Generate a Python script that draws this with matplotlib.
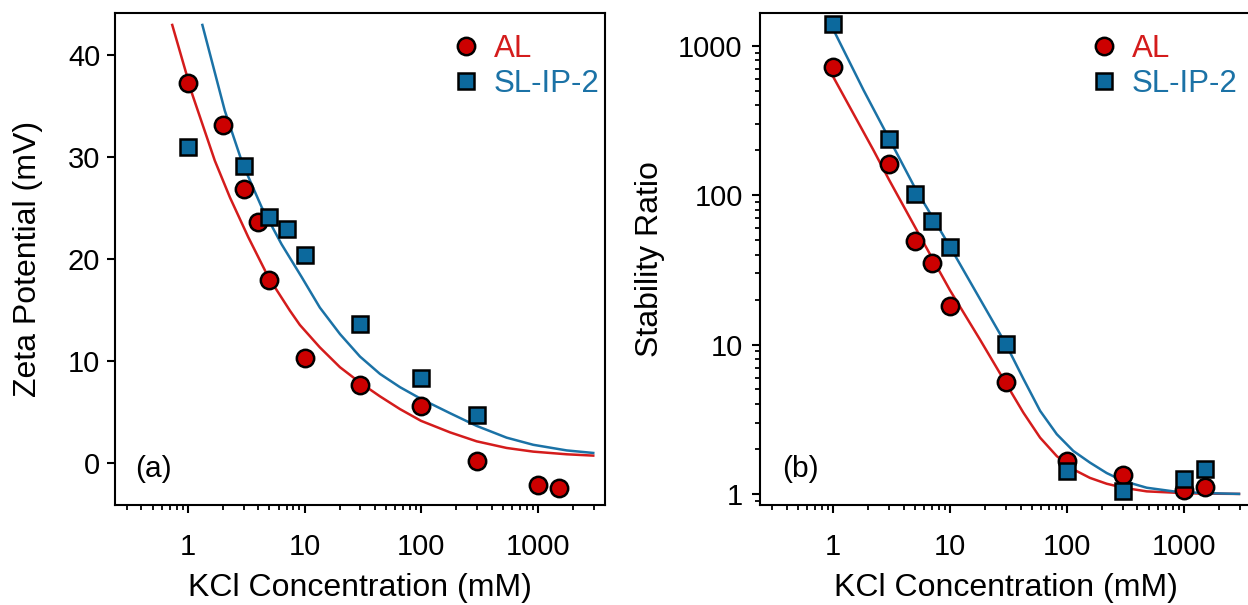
import numpy as np
import matplotlib
matplotlib.use('Agg')
import matplotlib.pyplot as plt
from matplotlib.ticker import FixedLocator, FixedFormatter, LogLocator, NullFormatter

plt.rcParams['font.family'] = ['Liberation Sans', 'DejaVu Sans']

# KCl concentrations (mM)
kcl_al = [1, 2, 3, 4, 5, 10, 30, 100, 300, 1000, 1500]
kcl_sl = [1, 3, 5, 7, 10, 30, 100, 300]
kcl_w = [1, 3, 5, 7, 10, 30, 100, 300, 1000, 1500]

# zeta potential (mV)
zeta_al = [37.2, 33.1, 26.8, 23.6, 17.9, 10.25, 7.6, 5.6, 0.15, -2.2, -2.45]
zeta_sl = [30.9, 29.1, 24.1, 22.9, 20.4, 13.6, 8.3, 4.7]

# stability ratio W
w_al = [721, 162, 49.3, 35.3, 18.1, 5.58, 1.65, 1.33, 1.07, 1.11]
w_sl = [1395, 236, 101, 67, 44.6, 10.1, 1.43, 1.04, 1.25, 1.47]

# model curves
zfit_al_x = [0.734, 1.09, 1.70, 2.29, 3.29, 4.88, 7.48, 9.1, 13.5, 20.1, 29.8, 44.2,
             65.6, 99.3, 176, 298, 538, 910, 1758, 2972]
zfit_al_y = [42.9, 36.1, 29.6, 26.0, 22.1, 18.2, 14.9, 13.5, 11.3, 9.35, 7.85, 6.5,
             5.25, 4.1, 2.97, 2.09, 1.44, 1.08, 0.82, 0.69]
zfit_sl_x = [1.33, 2.07, 2.94, 4.28, 6.35, 9.42, 13.5, 20.1, 29.8, 44.2, 65.6, 99.3,
             176, 298, 538, 910, 1758, 2972]
zfit_sl_y = [42.9, 34.5, 29.3, 25.05, 21.4, 18.2, 15.2, 12.6, 10.4, 8.7, 7.4, 6.25,
             4.85, 3.6, 2.45, 1.75, 1.2, 0.95]

wfit_al_x = [1, 2.21, 3, 7, 10, 18, 30, 42.3, 58.8, 81.7, 113, 157, 218, 303, 480,
             811, 1372, 2953]
wfit_al_y = [620, 200, 127, 38, 23, 10.8, 5.5, 3.5, 2.38, 1.79, 1.46, 1.28, 1.17, 1.10,
             1.04, 1.02, 1.005, 1.0]
wfit_sl_x = [1, 1.82, 3, 5, 7, 10, 15.8, 29.9, 42.3, 58.8, 81.7, 113, 157, 218, 303,
             480, 811, 1372, 2953]
wfit_sl_y = [1290, 504, 240, 112, 72, 45, 24.1, 10.1, 5.9, 3.6, 2.51, 1.94, 1.62, 1.38,
             1.22, 1.10, 1.04, 1.015, 1.0]

series = ['AL', 'SL-IP-2']
red_fill, blue_fill = '#cc0000', '#0c699d'
red_line, blue_line = '#d41c1c', '#1b72a6'

x_ticks = [1, 10, 100, 1000]
x_labels = ['1', '10', '100', '1000']


def style_axes(ax, ypad):
    ax.set_xscale('log')
    ax.set_xlim(0.237, 3740)
    ax.xaxis.set_major_locator(FixedLocator(x_ticks))
    ax.xaxis.set_major_formatter(FixedFormatter(x_labels))
    ax.xaxis.set_minor_locator(LogLocator(base=10, subs=np.arange(2, 10)))
    ax.xaxis.set_minor_formatter(NullFormatter())
    for s in ax.spines.values():
        s.set_linewidth(1.5)
    ax.tick_params(which='major', direction='out', length=5.5, width=1.5, labelsize=21)
    ax.tick_params(which='minor', direction='out', length=3.8, width=1.3)
    ax.tick_params(axis='x', which='major', pad=15)
    ax.tick_params(axis='y', which='major', pad=ypad)
    ax.set_xlabel('KCl Concentration (mM)', fontsize=23)
    ax.xaxis.set_label_coords(0.5, -0.139)
    ax.xaxis.label.set_va('top')


def draw_points(ax, xa, ya, xs, ys):
    h1, = ax.plot(xa, ya, 'o', ms=12.5, mfc=red_fill, mec='black', mew=1.8, zorder=4)
    h2, = ax.plot(xs, ys, 's', ms=12, mfc=blue_fill, mec='black', mew=1.8, zorder=4)
    return h1, h2


def add_legend(ax, handles, x0):
    ax.legend(handles, series, loc='upper left', bbox_to_anchor=(x0, 0.956),
              frameon=False, fontsize=22.5, handlelength=0.6, handletextpad=0.6,
              labelspacing=0.15, borderpad=0, borderaxespad=0,
              labelcolor=[red_line, blue_line])


fig = plt.figure(figsize=(12.48, 6.05), dpi=100)

# (a) zeta potential
ax1 = fig.add_axes([0.0921, 0.1653, 0.3926, 0.8137])
ax1.plot(zfit_al_x, zfit_al_y, color=red_line, lw=1.8, zorder=2)
ax1.plot(zfit_sl_x, zfit_sl_y, color=blue_line, lw=1.8, zorder=2)
hs = draw_points(ax1, kcl_al, zeta_al, kcl_sl, zeta_sl)
style_axes(ax1, 5)
ax1.set_ylim(-4.15, 44.1)
ax1.set_yticks([0, 10, 20, 30, 40])
ax1.set_ylabel('Zeta Potential (mV)', fontsize=23)
ax1.yaxis.set_label_coords(-0.147, 0.5)
ax1.text(0.041, 0.073, '(a)', transform=ax1.transAxes, fontsize=21.5, va='center')
add_legend(ax1, hs, 0.697)

# (b) stability ratio
ax2 = fig.add_axes([0.6090, 0.1653, 0.3934, 0.8137])
ax2.plot(wfit_al_x, wfit_al_y, color=red_line, lw=1.8, zorder=2)
ax2.plot(wfit_sl_x, wfit_sl_y, color=blue_line, lw=1.8, zorder=2)
hs = draw_points(ax2, kcl_w, w_al, kcl_w, w_sl)
style_axes(ax2, 7)
ax2.set_yscale('log')
ax2.set_ylim(0.843, 1663)
ax2.yaxis.set_major_locator(FixedLocator([1, 10, 100, 1000]))
ax2.yaxis.set_major_formatter(FixedFormatter(['1', '10', '100', '1000']))
ax2.yaxis.set_minor_locator(LogLocator(base=10, subs=np.arange(2, 10)))
ax2.yaxis.set_minor_formatter(NullFormatter())
ax2.set_ylabel('Stability Ratio', fontsize=23)
ax2.yaxis.set_label_coords(-0.1935, 0.5)
ax2.text(0.046, 0.073, '(b)', transform=ax2.transAxes, fontsize=21.5, va='center')
add_legend(ax2, hs, 0.681)

fig.savefig('out.png', dpi=100)
